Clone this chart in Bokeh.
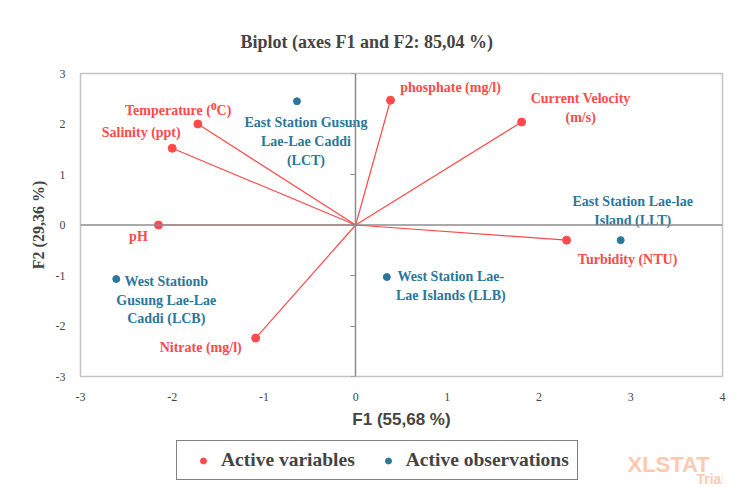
from bokeh.plotting import figure
from bokeh.layouts import column
from bokeh.models import (Range1d, LinearAxis, FixedTicker, Span, Legend, LegendItem,
                          ColumnDataSource, PrintfTickFormatter)
from bokeh.core.properties import value
from bokeh.embed import file_html
from bokeh.resources import INLINE

# ---- data ----
var_names = ["Temperature  (\u2070C)", "Salinity (ppt)", "pH", "phosphate (mg/l)",
             "Current Velocity\n(m/s)", "Turbidity (NTU)", "Nitrate (mg/l)"]
var_f1 = [-1.72, -2.00, -2.15, 0.38, 1.81, 2.30, -1.09]
var_f2 = [2.00, 1.52, 0.00, 2.47, 2.04, -0.30, -2.24]

obs_names = ["East Station Gusung\nLae-Lae Caddi\n(LCT)",
             "West Stationb\nGusung Lae-Lae\nCaddi (LCB)",
             "West Station Lae-\nLae Islands (LLB)",
             "East Station Lae-lae\nIsland (LLT)"]
obs_f1 = [-0.64, -2.61, 0.34, 2.89]
obs_f2 = [2.45, -1.07, -1.03, -0.30]

x_ticks = [-3, -2, -1, 0, 1, 2, 3, 4]
y_ticks = [-3, -2, -1, 0, 1, 2, 3]
legend_labels = ["Active variables", "Active observations"]

# ---- label offsets (screen px; style only) ----
var_dx = [-18, -31, -20, 60, 59, 61, -55]
var_dy = [-14, -16, 11, -13, -14, 19, 9]
obs_dx = [9, 50, 64, 12]
obs_dy = [40, 21, 9, -29]

RED = "#FF4A4A"
BLUE = "#2A779B"
SERIF = "serif"
SANS = "Liberation Sans"
NAN = float("nan")

p = figure(width=739, height=440, output_backend="svg", toolbar_location=None,
           x_range=Range1d(-3, 4), y_range=Range1d(-3, 3),
           min_border_left=80, min_border_right=17, min_border_top=73, min_border_bottom=64)

p.title.text = "Biplot (axes F1 and F2: 85,04 %)"
p.title.text_font = SERIF
p.title.text_font_size = "18px"
p.title.text_font_style = "bold"
p.title.align = "left"
p.title.offset = 160
p.title.standoff = 44

p.grid.visible = False
p.outline_line_color = "#c4c4c4"
p.outline_line_width = 1.5

for ax in (p.xaxis[0], p.yaxis[0]):
    ax.axis_line_color = None
    ax.major_tick_line_color = None
    ax.minor_tick_line_color = None
    ax.major_label_text_font = SERIF
    ax.major_label_text_font_size = "12px"
    ax.major_label_text_color = "#444444"
    ax.major_label_text_font_style = "normal"
    ax.formatter = PrintfTickFormatter(format="%d")

p.xaxis[0].ticker = FixedTicker(ticks=x_ticks)
p.yaxis[0].ticker = FixedTicker(ticks=y_ticks)
p.xaxis[0].major_label_standoff = 10
p.yaxis[0].major_label_standoff = 9
p.xaxis[0].axis_label = "F1 (55,68 %)"
p.xaxis[0].axis_label_text_font = SANS
p.xaxis[0].axis_label_text_font_style = "bold"
p.xaxis[0].axis_label_text_font_size = "17px"
p.xaxis[0].axis_label_standoff = 6
p.yaxis[0].axis_label = "F2 (29,36 %)"
p.yaxis[0].axis_label_text_font = SERIF
p.yaxis[0].axis_label_text_font_style = "bold"
p.yaxis[0].axis_label_text_font_size = "16px"
p.yaxis[0].axis_label_standoff = 6

# zero lines
p.add_layout(Span(location=0, dimension="width", line_color="#8c8c8c", line_width=1.5))
cy = LinearAxis(fixed_location=0, ticker=FixedTicker(ticks=y_ticks))
cy.axis_line_color = "#8c8c8c"
cy.axis_line_width = 1.5
cy.major_tick_out = 5
cy.major_tick_in = 0
cy.major_tick_line_color = "#8c8c8c"
cy.minor_tick_line_color = None
cy.major_label_text_font_size = "1px"
cy.major_label_text_color = None
cy.major_label_standoff = 0
p.add_layout(cy, "left")

# variable vectors
src_v = ColumnDataSource(dict(x=var_f1, y=var_f2, name=var_names, dx=var_dx, dy=var_dy,
                              x0=[0] * len(var_f1), y0=[0] * len(var_f2)))
p.segment(x0="x0", y0="y0", x1="x", y1="y", source=src_v, line_color=RED, line_width=1.2)
p.scatter(x="x", y="y", source=src_v, size=8, color=RED)
p.text(x="x", y="y", text="name", source=src_v, x_offset="dx", y_offset="dy",
       text_align="center", text_baseline="middle", text_color=RED,
       text_font=value(SERIF), text_font_style="bold", text_font_size="14px",
       text_line_height=1.25)

# observations
src_o = ColumnDataSource(dict(x=obs_f1, y=obs_f2, name=obs_names, dx=obs_dx, dy=obs_dy))
p.scatter(x="x", y="y", source=src_o, size=7, color=BLUE)
p.text(x="x", y="y", text="name", source=src_o, x_offset="dx", y_offset="dy",
       text_align="center", text_baseline="middle", text_color=BLUE,
       text_font=value(SERIF), text_font_style="bold", text_font_size="14px",
       text_line_height=1.25)

# ---- legend strip (x in page pixels; frame aligned with the plot above) ----
p2 = figure(width=739, height=47, output_backend="svg", toolbar_location=None,
            x_range=Range1d(80, 722), y_range=Range1d(0, 47),
            min_border_left=80, min_border_right=17, min_border_top=0, min_border_bottom=0)
p2.axis.visible = False
p2.grid.visible = False
p2.outline_line_color = None
p2.text(x=[627], y=[23], text=["XLSTAT"], text_color="#FFC9AE",
        text_font=value(SANS), text_font_style="bold", text_font_size="22px",
        text_baseline="middle")
p2.text(x=[696], y=[9], text=["Trial"], text_color="#FFC9AE",
        text_font=value(SANS), text_font_style="bold", text_font_size="14px",
        text_baseline="middle")
lv = p2.scatter(x=[NAN], y=[NAN], size=8, color=RED)
lo = p2.scatter(x=[NAN], y=[NAN], size=8, color=BLUE)
legend = Legend(items=[LegendItem(label=legend_labels[0], renderers=[lv]),
                       LegendItem(label=legend_labels[1], renderers=[lo])],
                orientation="horizontal", location=(96, 7),
                border_line_color="black", border_line_width=1,
                label_text_font=SERIF, label_text_font_style="bold",
                label_text_font_size="19.5px", glyph_width=36, glyph_height=15,
                label_standoff=0, spacing=15, padding=8,
                margin=0, label_height=20)
p2.add_layout(legend, "center")

open("out.html", "w").write(file_html(column(p, p2, spacing=0), INLINE))
